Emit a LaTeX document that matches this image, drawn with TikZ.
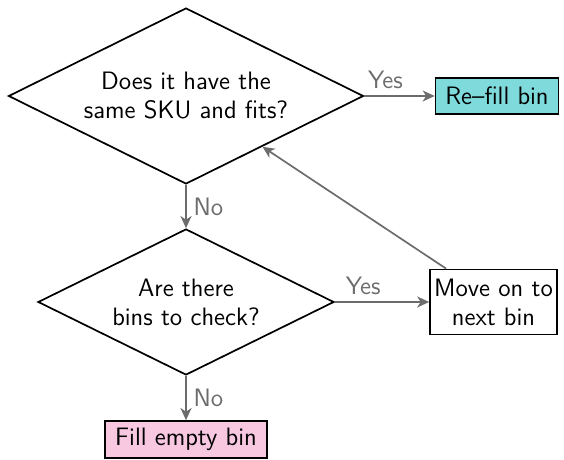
\documentclass[tikz,border=0pt]{standalone}
\usetikzlibrary{shapes.geometric,arrows.meta,calc}
\renewcommand{\familydefault}{\sfdefault}
\definecolor{linkgray}{RGB}{108,108,108}
\definecolor{refillcyan}{RGB}{127,219,219}
\definecolor{fillpink}{RGB}{247,200,224}
\begin{document}
\begin{tikzpicture}[x=0.5pt,y=-0.5pt,
  font=\fontsize{12.6}{14.5}\selectfont,
  decision/.style={diamond,aspect=2,draw,line width=0.85pt,inner sep=0pt,align=center},
  stepbox/.style={rectangle,draw,line width=0.85pt,inner sep=0pt,align=center},
  flow/.style={draw=linkgray,line width=0.85pt,-{Stealth[length=6pt,width=5.5pt,inset=1.8pt]}},
  lbl/.style={text=linkgray}]
\useasboundingbox (0,0) rectangle (564,460);

% decisions
\node[decision,minimum width=177.5pt,minimum height=88pt] (d1) at (186,96)
  {Does it have the\\same SKU and fits?};
\node[decision,minimum width=148pt,minimum height=73pt] (d2) at (186,302)
  {Are there\\bins to check?};

% actions
\node[stepbox,fill=refillcyan,minimum width=61.5pt,minimum height=18pt] (refill) at (497,96) {Re--fill bin};
\node[stepbox,minimum width=63.5pt,minimum height=32.5pt] (move) at (493.5,302) {Move on to\\next bin};
\node[stepbox,fill=fillpink,minimum width=81pt,minimum height=18.5pt] (fill) at (186,439.5) {Fill empty bin};

\coordinate (mv) at ($(move.north west)+(17,0)$);

% connectors
\draw[flow] (d1.east) -- (refill.west) node[lbl,pos=0.3,above] {Yes};
\draw[flow] (d1.south) -- (d2.north) node[lbl,midway,right] {No};
\draw[flow] (d2.east) -- (move.west) node[lbl,pos=0.3,above] {Yes};
\draw[flow] (d2.south) -- (fill.north) node[lbl,midway,right] {No};
\draw[flow] (mv) -- (d1);
\end{tikzpicture}
\end{document}
